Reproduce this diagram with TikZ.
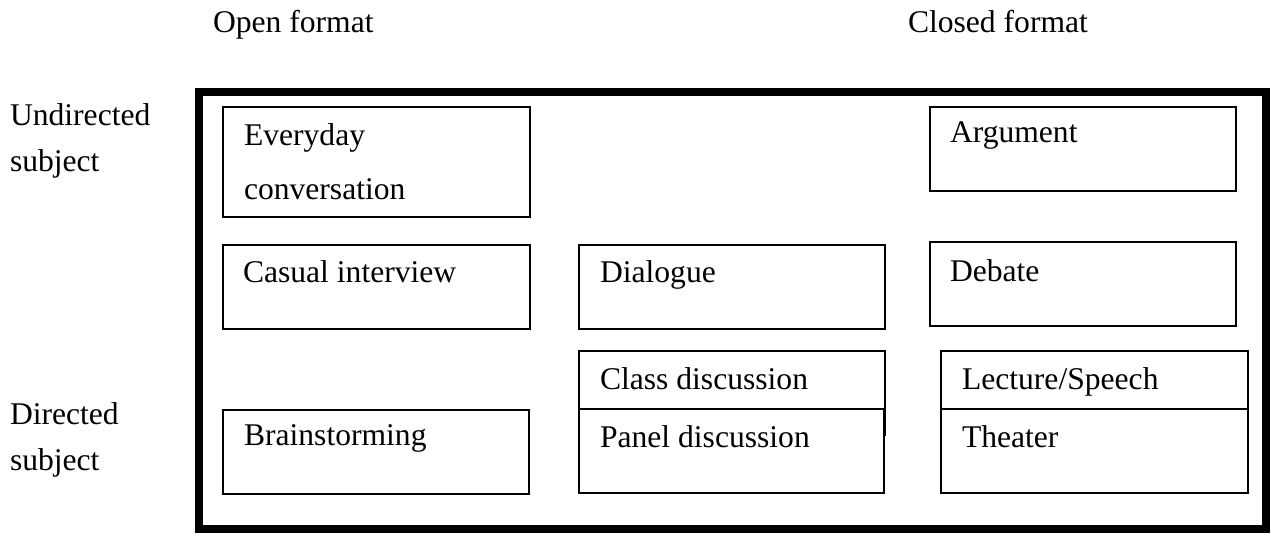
\documentclass[tikz,border=0pt]{standalone}
\usepackage{fontspec}
\setmainfont{Liberation Serif}
\usetikzlibrary{calc}
\begin{document}
\begin{tikzpicture}[x=1pt,y=-1pt,
  cell/.style={draw=black, line width=1.3pt, fill=white, inner sep=0pt, outer sep=0pt,
    anchor=north west, minimum width=306pt, minimum height=84pt},
  txt/.style={inner sep=0pt, outer sep=0pt, anchor=base west, align=left,
    font=\fontsize{31.6}{54}\selectfont},
  side/.style={txt, font=\fontsize{31.6}{46}\selectfont},
  frame/.style={draw=black, line width=8pt}]
\useasboundingbox (0,0) rectangle (1271,537);

% column and row headings (multi-line nodes sit on their last baseline)
\node[txt] (open)   at (213,33) {Open format};
\node[txt] (closed) at (908,33) {Closed format};
\node[side] (undir) at (10,172) {Undirected\\subject};
\node[side] (dir)   at (10,470) {Directed\\subject};

% outer frame
\node[frame, inner sep=0pt, outer sep=0pt, anchor=north west,
  minimum width=1067pt, minimum height=437pt] (outer) at (199,92) {};

% open-format column
\node[cell, minimum width=307pt, minimum height=110pt] (every) at (223,107) {};
\node[txt] (everyT) at ($(every.north west)+(21,93)$) {Everyday\\conversation};
\node[cell, minimum width=307pt] (casual) at (223,245) {};
\node[txt] (casualT) at ($(casual.north west)+(20,38)$) {Casual interview};
\node[cell] (brain) at (223,410) {};
\node[txt] (brainT) at ($(brain.north west)+(21,35)$) {Brainstorming};

% middle column
\node[cell] (dialog) at (579,245) {};
\node[txt] (dialogT) at ($(dialog.north west)+(21,38)$) {Dialogue};
\node[cell] (class) at (579,351) {};
\node[txt] (classT) at ($(class.north west)+(21,38)$) {Class discussion};
\node[cell, minimum width=305pt] (panel) at (579,409) {};
\node[txt] (panelT) at ($(panel.north west)+(21,38)$) {Panel discussion};

% closed-format column
\node[cell] (argue) at (930,107) {};
\node[txt] (argueT) at ($(argue.north west)+(20,36)$) {Argument};
\node[cell] (debate) at (930,242) {};
\node[txt] (debateT) at ($(debate.north west)+(20,39)$) {Debate};
\node[cell, minimum width=307pt] (lecture) at (941,351) {};
\node[txt] (lectureT) at ($(lecture.north west)+(21,38)$) {Lecture/Speech};
\node[cell, minimum width=307pt] (theater) at (941,409) {};
\node[txt] (theaterT) at ($(theater.north west)+(21,38)$) {Theater};
\end{tikzpicture}
\end{document}
